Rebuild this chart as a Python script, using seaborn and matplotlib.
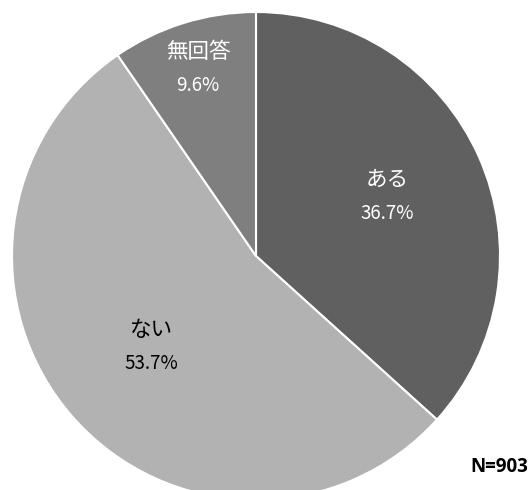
import numpy as np
import matplotlib
matplotlib.use("Agg")
import matplotlib.pyplot as plt
import seaborn as sns

# data
labels = ["ある", "ない", "無回答"]
values = [36.7, 53.7, 9.6]
colors = ["#606060", "#b2b2b2", "#7f7f7f"]
text_colors = ["white", "black", "white"]
label_radius = [0.59, 0.57, 0.80]
n_total = 903

sns.set_theme(style="white")
plt.rcParams['font.family'] = ['Noto Sans CJK JP', 'DejaVu Sans']

fig = plt.figure(figsize=(5.31, 4.90), dpi=100)
ax = fig.add_axes([0, 0, 1, 1])

wedges, _ = ax.pie(values, colors=colors, startangle=90, counterclock=False,
                   center=(256, 234), radius=244,
                   wedgeprops=dict(edgecolor="white", linewidth=1.5))

for w, lab, val, tc, r in zip(wedges, labels, values, text_colors, label_radius):
    mid = np.deg2rad((w.theta1 + w.theta2) / 2)
    x = 256 + r * 244 * np.cos(mid)
    y = 234 + r * 244 * np.sin(mid)
    ax.text(x, y + 18, lab, ha="center", va="center", fontsize=15.5, color=tc)
    ax.text(x, y - 16, f"{val:.1f}%", ha="center", va="center", fontsize=13.5, color=tc)

ax.text(528, 23, f"N={n_total}", ha="right", va="center", fontsize=13.5,
        fontweight="bold", color="black", family=['Open Sans', 'DejaVu Sans'])

ax.set_xlim(0, 531)
ax.set_ylim(0, 490)
ax.set_aspect("equal")
ax.axis("off")

fig.savefig("out.png", dpi=100)
